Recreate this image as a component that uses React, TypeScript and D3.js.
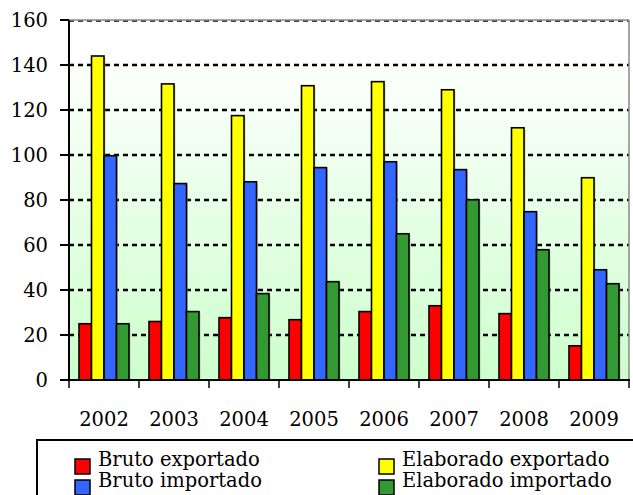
import React from "react";
import * as d3 from "d3";

const years = ["2002", "2003", "2004", "2005", "2006", "2007", "2008", "2009"];
const seriesNames = ["Bruto exportado", "Elaborado exportado", "Bruto importado", "Elaborado importado"];
const brutoExportado = [25, 26, 27.7, 26.8, 30.4, 33, 29.5, 15.2];
const elaboradoExportado = [144, 131.6, 117.5, 130.8, 132.6, 129, 112.1, 89.9];
const brutoImportado = [99.7, 87.3, 88.1, 94.4, 97, 93.5, 74.8, 49];
const elaboradoImportado = [25, 30.4, 38.4, 43.7, 65, 80.1, 57.9, 42.8];
const seriesColors = ["#ff0000", "#ffff00", "#3366ff", "#339933"];
const yTicks = [0, 20, 40, 60, 80, 100, 120, 140, 160];

const seriesValues = [brutoExportado, elaboradoExportado, brutoImportado, elaboradoImportado];

const W = 633;
const H = 495;
const left = 69;
const right = 629;
const top = 20;
const bottom = 380;
const FONT = "'DejaVu Serif', serif";

export default function App() {
  const x = d3.scaleBand<string>().domain(years).range([left, right]).padding(0);
  const inner = d3
    .scaleBand<string>()
    .domain(seriesNames)
    .range([10, x.bandwidth() - 10])
    .padding(0);
  const y = d3.scaleLinear().domain([0, 160]).range([bottom, top]);

  const legendItems = [
    { name: seriesNames[0], color: seriesColors[0], col: 0, row: 0 },
    { name: seriesNames[1], color: seriesColors[1], col: 1, row: 0 },
    { name: seriesNames[2], color: seriesColors[2], col: 0, row: 1 },
    { name: seriesNames[3], color: seriesColors[3], col: 1, row: 1 },
  ];
  const legendX = [75, 379];

  return (
    <svg
      width={W}
      height={H}
      style={{ position: "absolute", left: 0, top: 0, background: "#fff" }}
      fontFamily={FONT}
    >
      <defs>
        <linearGradient id="bg" x1="0" y1="0" x2="0" y2="1">
          <stop offset="0" stopColor="#ffffff" />
          <stop offset="0.09" stopColor="#ffffff" />
          <stop offset="1" stopColor="#ccffcc" />
        </linearGradient>
      </defs>
      <rect x={left} y={top} width={right - left} height={bottom - top} fill="url(#bg)" />
      {/* gridlines */}
      {yTicks
        .filter((t) => t > 0)
        .map((t) => (
          <line
            key={t}
            x1={left}
            x2={right}
            y1={y(t) + (t === 160 ? 1 : 0)}
            y2={y(t) + (t === 160 ? 1 : 0)}
            stroke="#000"
            strokeWidth={t === 160 ? 1.5 : 2.5}
            strokeDasharray="5,4"
          />
        ))}
      {/* top & right border */}
      <line x1={left} x2={right} y1={top} y2={top} stroke="#888" strokeWidth={1.5} />
      <line x1={right} x2={right} y1={top} y2={bottom} stroke="#888" strokeWidth={1.5} />
      {/* bars */}
      {years.map((yr, i) => (
        <g key={yr} transform={`translate(${x(yr)},0)`}>
          {seriesNames.map((s, j) => {
            const v = seriesValues[j][i];
            const bx = inner(s)!;
            const bw = inner.bandwidth();
            return (
              <g key={s}>
                <rect x={bx + 1.5} y={y(v) + 1.5} width={bw} height={bottom - y(v) - 1.5} fill="#999" opacity={0.5} />
                <rect
                  x={bx}
                  y={y(v)}
                  width={bw}
                  height={bottom - y(v)}
                  fill={seriesColors[j]}
                  stroke="#000"
                  strokeWidth={1.6}
                />
              </g>
            );
          })}
        </g>
      ))}
      {/* axes */}
      <line x1={left} x2={left} y1={top} y2={bottom} stroke="#000" strokeWidth={2} />
      <line x1={left} x2={right + 1} y1={bottom} y2={bottom} stroke="#000" strokeWidth={2} />
      {yTicks.map((t) => (
        <g key={t}>
          <line x1={left - 9} x2={left} y1={y(t)} y2={y(t)} stroke="#000" strokeWidth={2} />
          <text x={48} y={y(t)} dy="0.36em" textAnchor="end" fontSize={19.5} fill="#000">
            {t}
          </text>
        </g>
      ))}
      {[...years.map((yr) => x(yr)!), right].map((px, i) => (
        <line key={i} x1={px} x2={px} y1={bottom} y2={bottom + 8} stroke="#000" strokeWidth={1.5} />
      ))}
      {years.map((yr) => (
        <text
          key={yr}
          x={x(yr)! + x.bandwidth() / 2}
          y={425.5}
          textAnchor="middle"
          fontSize={19.5}
          fill="#000"
        >
          {yr}
        </text>
      ))}
      {/* legend */}
      <rect x={37} y={440} width={W} height={H} fill="none" stroke="#000" strokeWidth={2} />
      {legendItems.map((it) => (
        <g key={it.name}>
          <rect
            x={legendX[it.col]}
            y={459 + it.row * 21}
            width={15}
            height={15}
            fill={it.color}
            stroke="#000"
            strokeWidth={1.5}
          />
          <text x={legendX[it.col] + 23} y={466 + it.row * 21} fontSize={19.5} fill="#000">
            {it.name}
          </text>
        </g>
      ))}
    </svg>
  );
}
